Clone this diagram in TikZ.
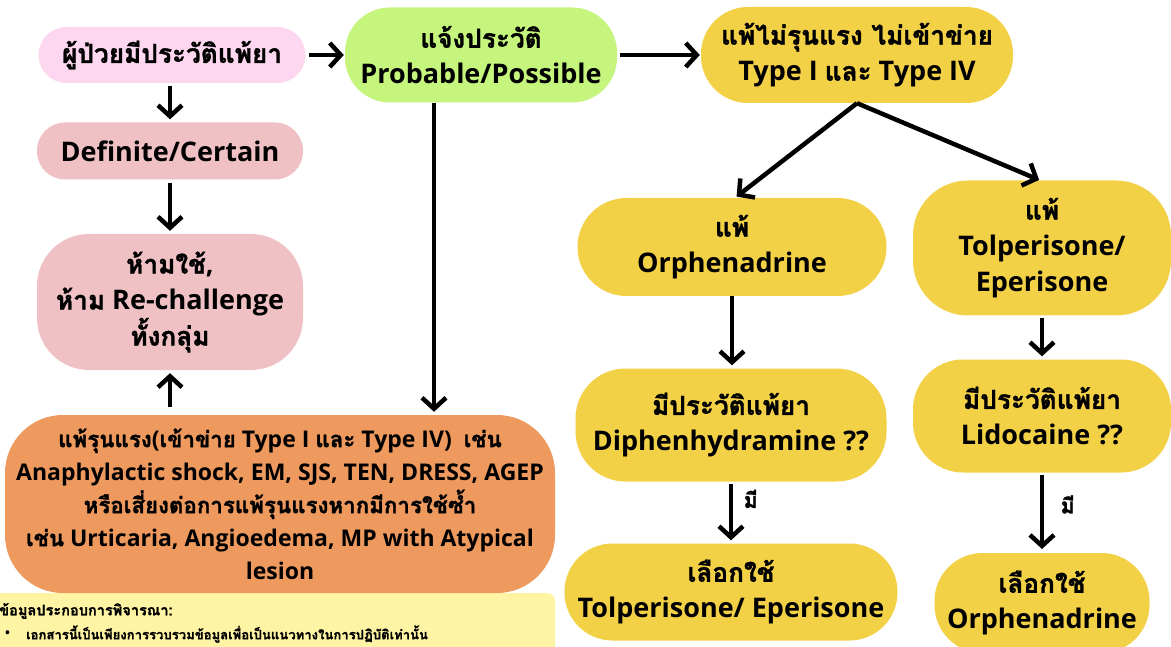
\documentclass[tikz,border=0pt]{standalone}
\usepackage{fontspec}
\setmainfont{Open Sans}
\newfontfamily\thai[Script=Thai,Scale=0.97,BoldFeatures={FakeBold=1.2}]{Loma}
\usetikzlibrary{arrows.meta}
\definecolor{pinkA}{HTML}{FCD7EF}
\definecolor{pinkB}{HTML}{EFC1C4}
\definecolor{greenA}{HTML}{C5F57C}
\definecolor{yellowA}{HTML}{F3D147}
\definecolor{orangeA}{HTML}{EE9A5F}
\definecolor{noteY}{HTML}{FEF4A3}
\begin{document}
\begin{tikzpicture}[x=1pt,y=-1pt,
  box/.style={align=center, inner sep=0pt, text=black,
    font=\fontsize{27}{36}\selectfont\bfseries},
  arr/.style={line width=4.5pt, draw=black,
    -{Straight Barb[length=11pt,width=24pt,line width=4.5pt]}},
  lbl/.style={font=\fontsize{22}{24}\selectfont\bfseries\thai, text=black}
]
\useasboundingbox (0,0) rectangle (1171,647);
\fill[white] (0,0) rectangle (1171,647);

% disclaimer box
\fill[noteY, rounded corners=8pt] (-10,593) rectangle (555,660);
\node[anchor=west, inner sep=0pt, font=\fontsize{15}{16}\selectfont\bfseries\thai] (n1) at (-1,611) {ข้อมูลประกอบการพิจารณา:};
\node[anchor=west, inner sep=0pt, font=\fontsize{13}{16}\selectfont\bfseries] (n2) at (5,634) {•};
\node[anchor=west, inner sep=0pt, font=\fontsize{13.5}{16}\selectfont\bfseries\thai] (n3) at (26,634) {เอกสารนี้เป็นเพียงการรวบรวมข้อมูลเพื่อเป็นแนวทางในการปฏิบัติเท่านั้น};

% left column
\node[box, fill=pinkA, rounded corners=28pt, minimum width=267pt, minimum height=56pt] (p) at (172,55)
  {{\thai ผู้ป่วยมีประวัติแพ้ยา}};
\node[box, fill=pinkB, rounded corners=28pt, minimum width=266pt, minimum height=57pt] (d) at (170,151)
  {Definite/Certain};
\node[box, fill=pinkB, rounded corners=52pt, minimum width=266pt, minimum height=136pt] (h) at (170,302)
  {{\thai ห้ามใช้},\\{\thai ห้าม} Re-challenge\\{\thai ทั้งกลุ่ม}};
\node[box, fill=orangeA, rounded corners=58pt, minimum width=550pt, minimum height=178pt,
  font=\fontsize{23}{33}\selectfont\bfseries] (o) at (280,504)
  {{\thai แพ้รุนแรง}({\thai เข้าข่าย} Type I {\thai และ} Type IV)\ \ {\thai เช่น}\\
   Anaphylactic shock, EM, SJS, TEN, DRESS, AGEP\\
   {\thai หรือเสี่ยงต่อการแพ้รุนแรงหากมีการใช้ซ้ำ}\\
   {\thai เช่น} Urticaria, Angioedema, MP with Atypical\\
   lesion};

% top middle / right
\node[box, fill=greenA, rounded corners=45pt, minimum width=272pt, minimum height=95pt] (g) at (481,55)
  {{\thai แจ้งประวัติ}\\Probable/Possible};
\node[box, fill=yellowA, rounded corners=47pt, minimum width=312pt, minimum height=96pt] (y) at (857,55)
  {{\thai แพ้ไม่รุนแรง ไม่เข้าข่าย}\\Type I {\thai และ} Type IV};

% right branches
\node[box, fill=yellowA, rounded corners=49pt, minimum width=309pt, minimum height=98pt] (or) at (732,247)
  {{\thai แพ้}\\Orphenadrine};
\node[box, fill=yellowA, rounded corners=55pt, minimum width=258pt, minimum height=135pt] (tp) at (1042,248)
  {{\thai แพ้}\\Tolperisone/\\Eperisone};
\node[box, fill=yellowA, rounded corners=50pt, minimum width=311pt, minimum height=113pt] (dp) at (731,425)
  {{\thai มีประวัติแพ้ยา}\\Diphenhydramine ??};
\node[box, fill=yellowA, rounded corners=50pt, minimum width=258pt, minimum height=113pt] (li) at (1042,416)
  {{\thai มีประวัติแพ้ยา}\\Lidocaine ??};
\node[box, fill=yellowA, rounded corners=48pt, minimum width=333pt, minimum height=97pt] (c1) at (731,592)
  {{\thai เลือกใช้}\\Tolperisone/ Eperisone};
\node[box, fill=yellowA, rounded corners=48pt, minimum width=215pt, minimum height=100pt] (c2) at (1042,603)
  {{\thai เลือกใช้}\\Orphenadrine};

% connectors
\draw[arr, shorten <=3pt, shorten >=1pt] (p.east) -- (g.west |- p.east);
\draw[arr, shorten <=3pt, shorten >=1pt] (g.east) -- (y.west);
\draw[arr, shorten <=3pt, shorten >=3pt] (p.south -| d.north) -- (d.north);
\draw[arr, shorten <=3pt, shorten >=3pt] (d.south) -- (h.north);
\draw[arr, shorten <=8pt, shorten >=3pt] (o.north -| h.south) -- (h.south);
\coordinate (gs) at ([xshift=-47pt]g.south);
\draw[arr, shorten >=3pt] (gs) -- (gs |- o.north);
\draw[arr, shorten >=2pt] (y.south) -- ([xshift=3pt]or.north);
\draw[arr, shorten >=1pt] (y.south) -- ([xshift=-2pt]tp.north);
\draw[arr, shorten >=3pt] (or.south) -- (dp.north -| or.south);
\draw[arr, shorten <=2pt, shorten >=3pt] (tp.south) -- (li.north);
\draw[arr, shorten <=2pt, shorten >=3pt] (dp.south) -- (c1.north)
  node[lbl, pos=0.28, right=7pt] (m1) {มี};
\draw[arr, shorten <=2pt, shorten >=3pt] (li.south) -- (c2.north |- 0,552)
  node[lbl, pos=0.4, right=13pt] (m2) {มี};
\end{tikzpicture}
\end{document}
